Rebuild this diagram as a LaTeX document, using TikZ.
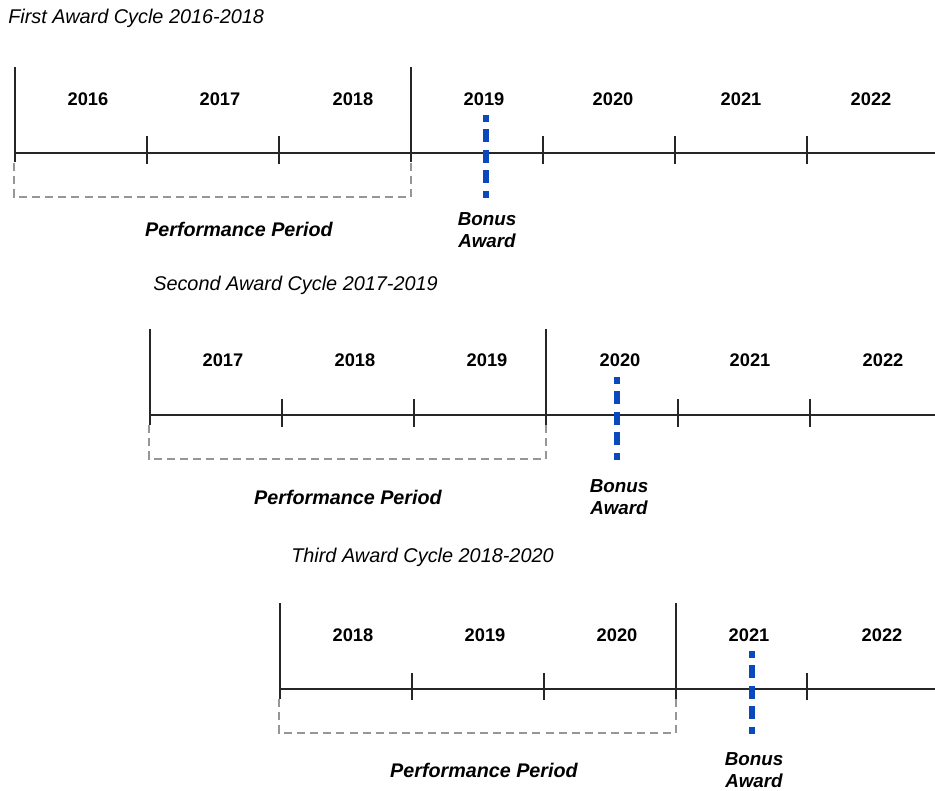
\documentclass[tikz,border=0pt]{standalone}
\usepackage{fontspec}
\setmainfont{Liberation Sans}
\usetikzlibrary{positioning}

\definecolor{bonusblue}{RGB}{10,72,190}
\definecolor{bracketgray}{RGB}{150,150,150}

\tikzset{
  axisline/.style={line width=0.9pt, black!85},
  yearlabel/.style={anchor=base, inner sep=0pt, font=\fontsize{13.7}{16}\selectfont\bfseries},
  cyclelabel/.style={anchor=base west, inner sep=0pt, font=\fontsize{14.9}{18}\selectfont\itshape},
  periodlabel/.style={anchor=base, inner sep=0pt, font=\fontsize{14.8}{18}\selectfont\bfseries\itshape},
  bonuslabel/.style={align=center, inner sep=0pt, font=\fontsize{14.1}{16.7}\selectfont\bfseries\itshape},
  bonusline/.style={line width=3.8pt, bonusblue, dash pattern=on 9.75pt off 5.6pt, dash phase=4.5pt},
  periodbracket/.style={line width=0.8pt, bracketgray, dash pattern=on 6pt off 3.8pt},
}

\begin{document}
\begin{tikzpicture}[x=0.75pt, y=-0.75pt]

\useasboundingbox (0,0) rectangle (935,791);

% First award cycle
\node[cyclelabel] (cycle1) at (8,24) {First Award Cycle 2016-2018};
\coordinate (start1) at (15,153);
\coordinate (end1) at (935,153);
\draw[axisline] (start1) -- (end1);
\foreach \x in {15,411} \draw[axisline] (\x,67) -- (\x,162);
\foreach \x in {147,279,543,675,807} \draw[axisline] (\x,136) -- (\x,164);
\foreach \x/\yr in {88/2016,220/2017,353/2018,484/2019,613/2020,741/2021,871/2022}
  \node[yearlabel] (c1y\yr) at (\x,106) {\yr};
\draw[periodbracket] (14,163) -- (14,197) -- (411,197) -- (411,163);
\node[periodlabel] (period1) at (239,237) {Performance Period};
\draw[bonusline] (486,115) -- (486,198);
\node[bonuslabel] (bonus1) at (487,230) {Bonus\\Award};

% Second award cycle
\node[cyclelabel] (cycle2) at (153,291) {Second Award Cycle 2017-2019};
\coordinate (start2) at (150,415);
\coordinate (end2) at (935,415);
\draw[axisline] (start2) -- (end2);
\foreach \x in {150,546} \draw[axisline] (\x,329) -- (\x,425);
\foreach \x in {282,414,678,810} \draw[axisline] (\x,399) -- (\x,427);
\foreach \x/\yr in {223/2017,355/2018,487/2019,620/2020,750/2021,883/2022}
  \node[yearlabel] (c2y\yr) at (\x,367) {\yr};
\draw[periodbracket] (149,425) -- (149,459) -- (546,459) -- (546,425);
\node[periodlabel] (period2) at (348,504) {Performance Period};
\draw[bonusline] (617,377) -- (617,460);
\node[bonuslabel] (bonus2) at (619,497) {Bonus\\Award};

% Third award cycle
\node[cyclelabel] (cycle3) at (291,562) {Third Award Cycle 2018-2020};
\coordinate (start3) at (280,689);
\coordinate (end3) at (935,689);
\draw[axisline] (start3) -- (end3);
\foreach \x in {280,676} \draw[axisline] (\x,603) -- (\x,699);
\foreach \x in {412,544,807} \draw[axisline] (\x,673) -- (\x,700);
\foreach \x/\yr in {353/2018,485/2019,617/2020,749/2021,882/2022}
  \node[yearlabel] (c3y\yr) at (\x,641) {\yr};
\draw[periodbracket] (279,699) -- (279,733) -- (676,733) -- (676,699);
\node[periodlabel] (period3) at (484,777) {Performance Period};
\draw[bonusline] (752,651) -- (752,734);
\node[bonuslabel] (bonus3) at (754,770) {Bonus\\Award};

\end{tikzpicture}
\end{document}
